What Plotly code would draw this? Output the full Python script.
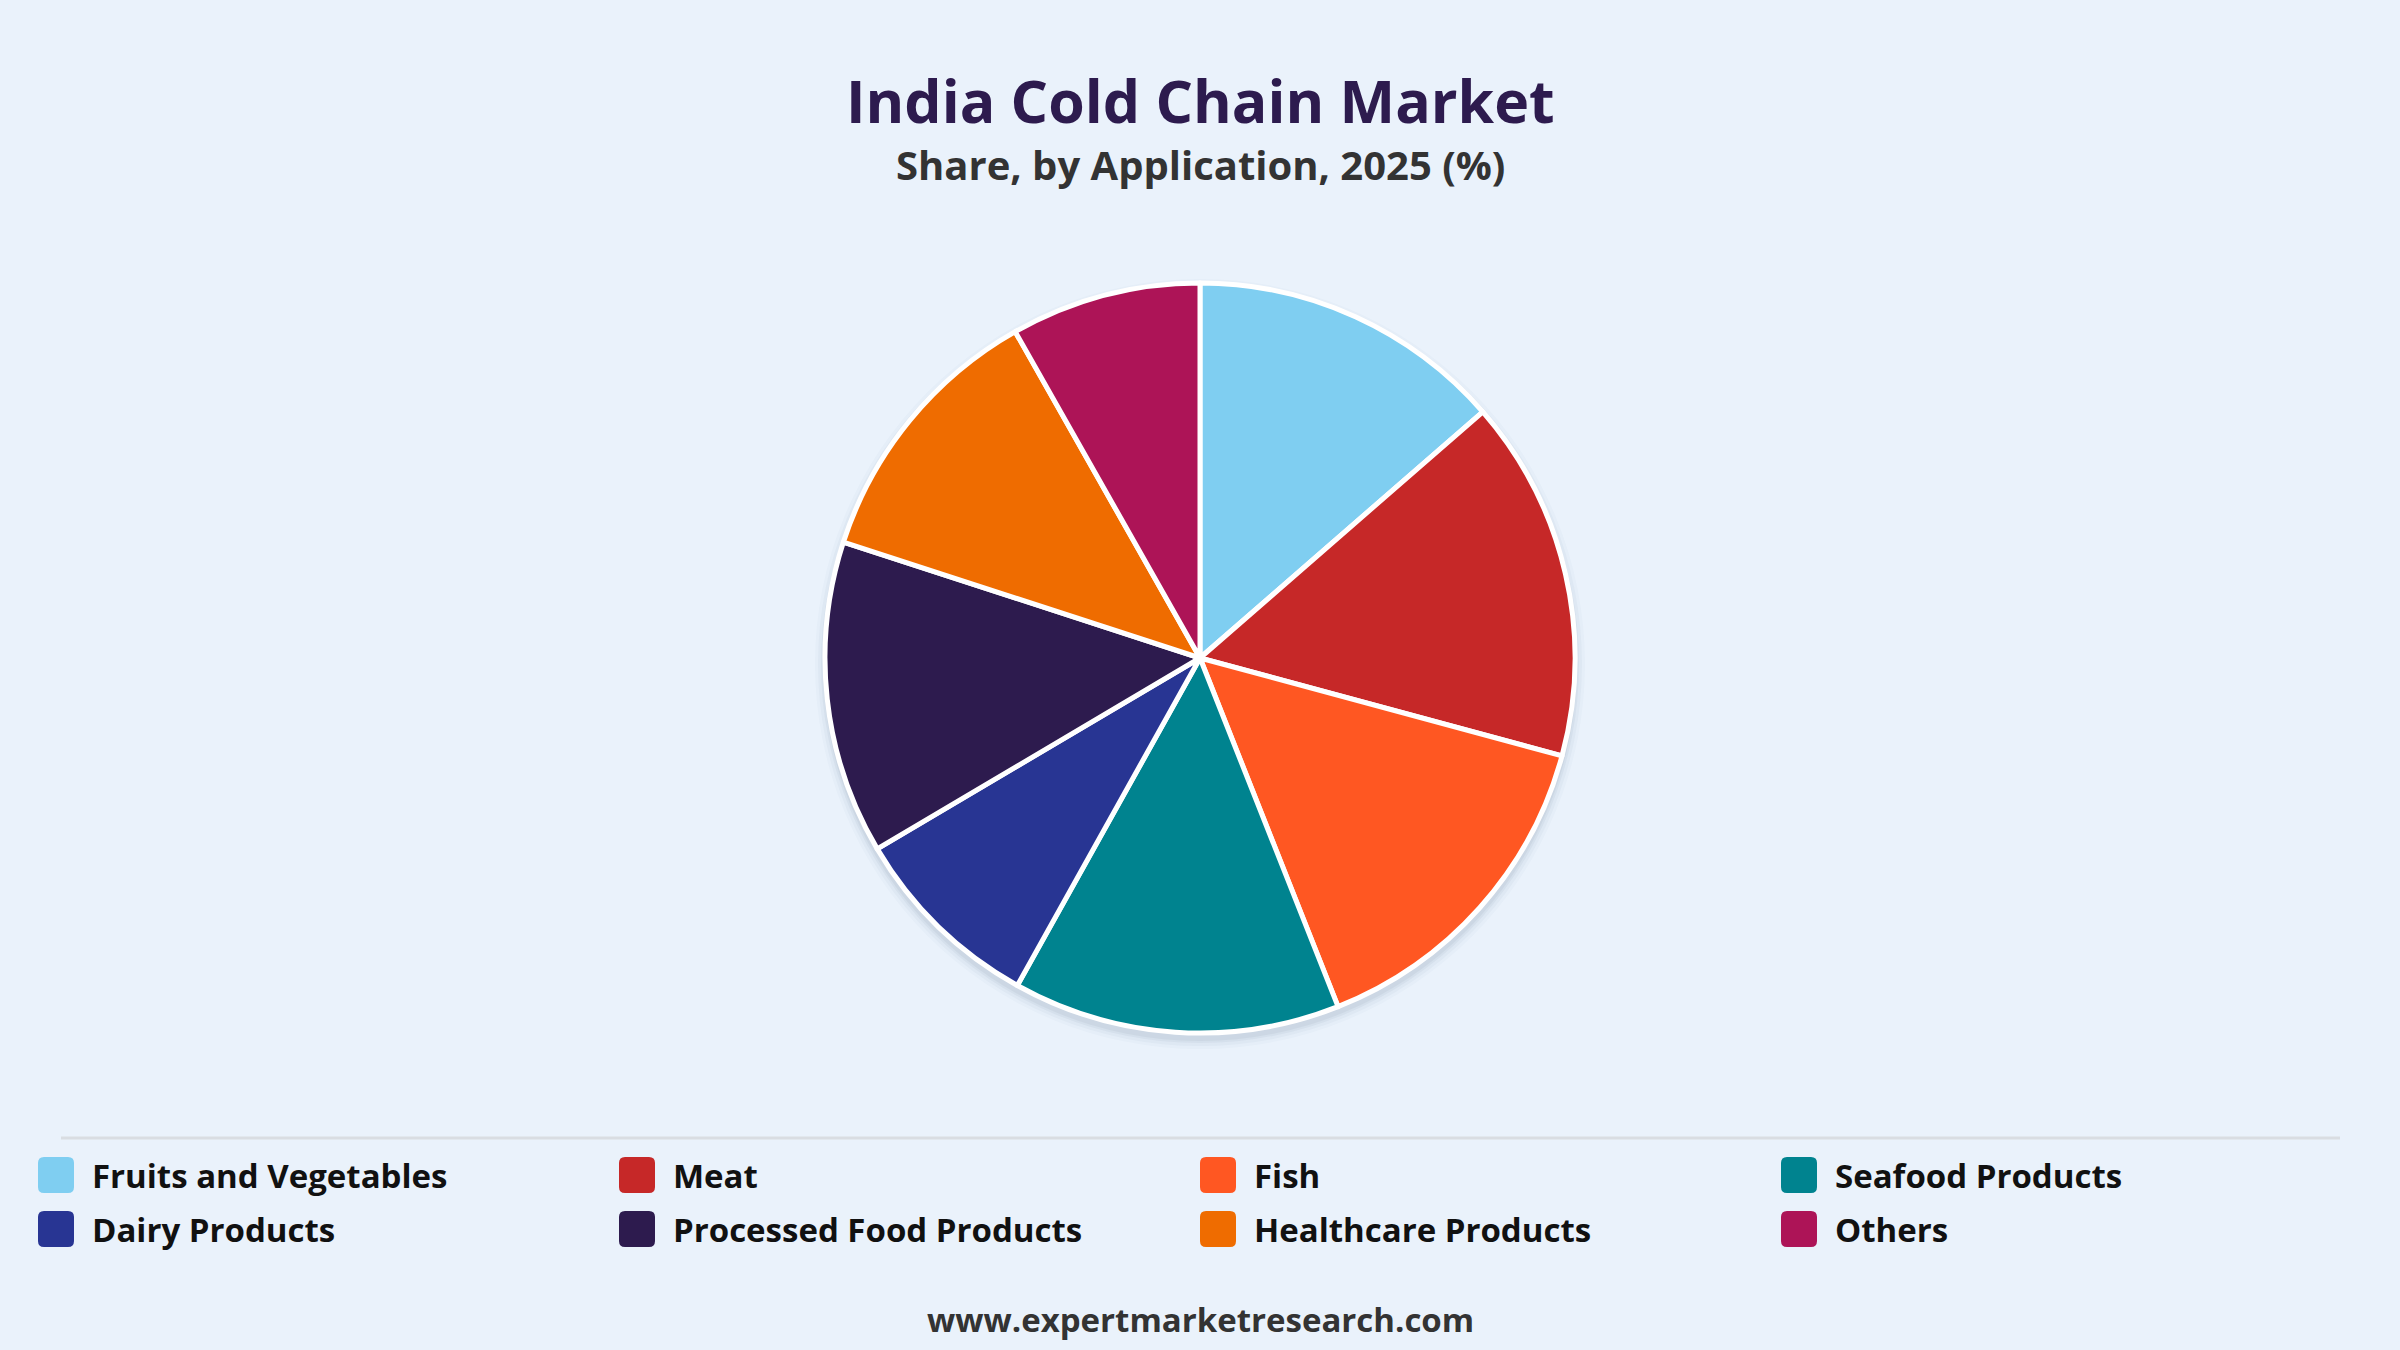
import plotly.graph_objects as go

W, H = 2400, 1350

categories = ["Fruits and Vegetables", "Meat", "Fish", "Seafood Products",
              "Dairy Products", "Processed Food Products", "Healthcare Products", "Others"]
shares = [13.6, 15.6, 14.8, 14.1, 8.4, 13.5, 11.8, 8.2]
colors = ["#7fcef1", "#c62828", "#ff5722", "#00838f",
          "#283593", "#2d1b4e", "#ef6c00", "#ad1457"]

title = "India Cold Chain Market"
subtitle = "Share, by Application, 2025 (%)"
footer = "www.expertmarketresearch.com"

FONT = "Open Sans"
BG = "#eaf2fb"

def px(x):
    return x / W

def py(y):
    return 1 - y / H

cx, cy, r = 1200, 658, 375

fig = go.Figure()
fig.add_trace(go.Pie(
    labels=categories, values=shares,
    marker=dict(colors=colors, line=dict(color="white", width=5)),
    sort=False, direction="clockwise", rotation=0,
    textinfo="none", hoverinfo="label+percent", showlegend=False,
    domain=dict(x=[px(cx - r), px(cx + r)], y=[py(cy + r), py(cy - r)]),
))

shapes = []
# soft drop shadow behind the pie
for grow, op in [(10, 0.025), (7, 0.035), (4, 0.05), (2, 0.06)]:
    rr = r + grow
    oy = 6
    shapes.append(dict(type="circle", xref="paper", yref="paper", layer="below",
                       x0=px(cx - rr), x1=px(cx + rr), y0=py(cy + oy + rr), y1=py(cy + oy - rr),
                       fillcolor=f"rgba(60,80,110,{op})", line=dict(width=0)))
# separator line
shapes.append(dict(type="line", xref="paper", yref="paper",
                   x0=px(61), x1=px(2340), y0=py(1138), y1=py(1138),
                   line=dict(color="#d9dde2", width=3)))

annotations = [
    dict(text=f"<b>{title}</b>", x=0.5, y=py(100), xref="paper", yref="paper",
         showarrow=False, font=dict(family=FONT, size=59, color="#2d1b4e"),
         xanchor="center", yanchor="middle"),
    dict(text=f"<b>{subtitle}</b>", x=0.5, y=py(164), xref="paper", yref="paper",
         showarrow=False, font=dict(family=FONT, size=40, color="#333333"),
         xanchor="center", yanchor="middle"),
    dict(text=f"<b>{footer}</b>", x=0.5, y=py(1319), xref="paper", yref="paper",
         showarrow=False, font=dict(family=FONT, size=33, color="#333333"),
         xanchor="center", yanchor="middle"),
]

# legend built from the category/colour lists
col_x = [38, 619, 1200, 1781]
row_y = [1175, 1229]
sw = 36
for i, (cat, col) in enumerate(zip(categories, colors)):
    x0 = col_x[i % 4]
    yc = row_y[i // 4]
    rad = 6
    xa, xb = x0, x0 + sw
    ya, yb = yc - sw / 2, yc + sw / 2
    path = (f"M {px(xa + rad)},{py(ya)} L {px(xb - rad)},{py(ya)} "
            f"Q {px(xb)},{py(ya)} {px(xb)},{py(ya + rad)} L {px(xb)},{py(yb - rad)} "
            f"Q {px(xb)},{py(yb)} {px(xb - rad)},{py(yb)} L {px(xa + rad)},{py(yb)} "
            f"Q {px(xa)},{py(yb)} {px(xa)},{py(yb - rad)} L {px(xa)},{py(ya + rad)} "
            f"Q {px(xa)},{py(ya)} {px(xa + rad)},{py(ya)} Z")
    shapes.append(dict(type="path", xref="paper", yref="paper", path=path,
                       fillcolor=col, line=dict(width=0)))
    annotations.append(dict(text=f"<b>{cat}</b>", x=px(x0 + 52), y=py(yc),
                            xref="paper", yref="paper", showarrow=False,
                            xanchor="left", yanchor="middle",
                            font=dict(family=FONT, size=33, color="#111111")))

fig.update_layout(
    width=W, height=H,
    margin=dict(l=0, r=0, t=0, b=0),
    paper_bgcolor=BG, plot_bgcolor=BG,
    shapes=shapes, annotations=annotations,
    showlegend=False,
)

fig.write_html("out.html")
